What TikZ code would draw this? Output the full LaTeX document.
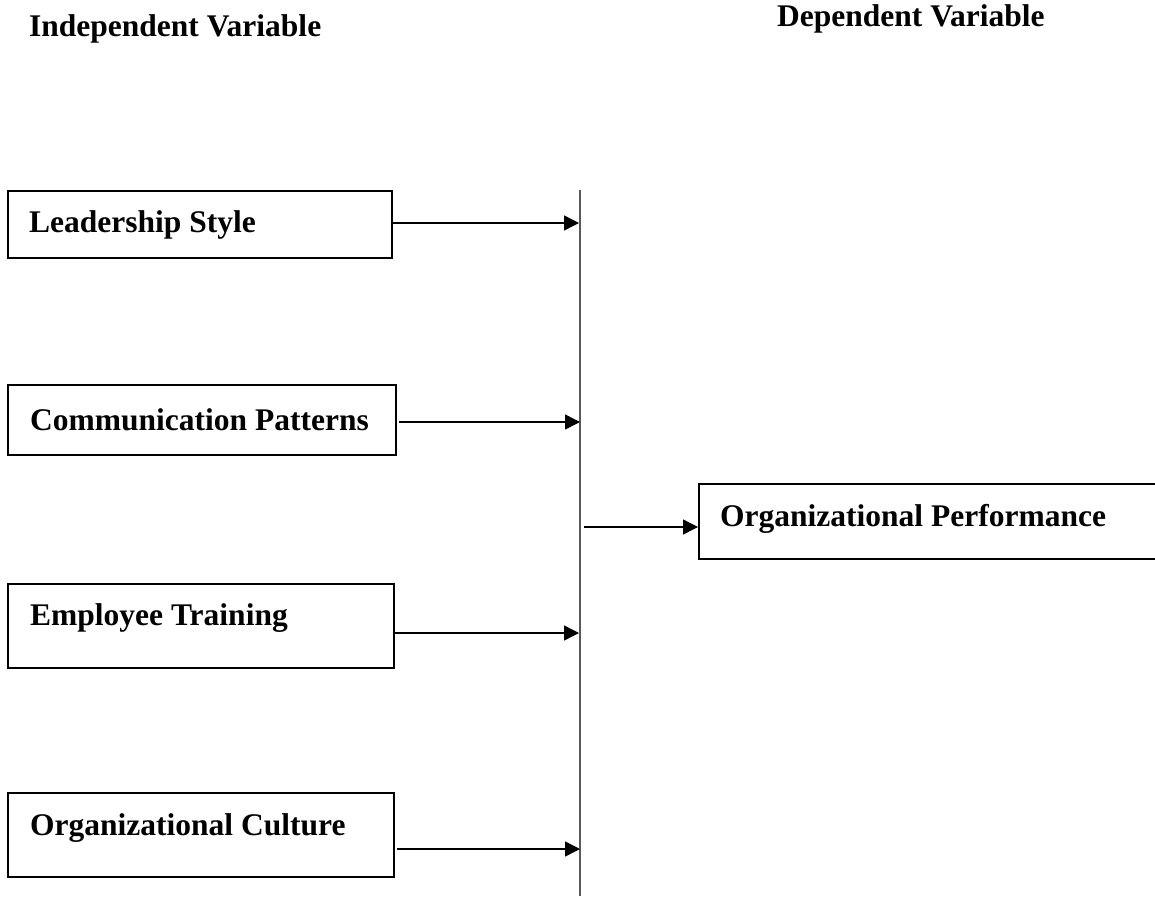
\documentclass[tikz,border=0pt]{standalone}
\usepackage{fontspec}
\setmainfont{Liberation Serif}
\usetikzlibrary{arrows.meta}
\begin{document}
\begin{tikzpicture}[x=1pt,y=-1pt,
  box/.style={draw=black, line width=2pt, fill=none, inner sep=0pt},
  lbl/.style={anchor=base west, inner sep=0pt, font=\fontsize{31.5}{36}\selectfont\bfseries},
  arr/.style={line width=1.4pt, -{Triangle[length=15pt,width=15pt]}},
  vbar/.style={draw=black!65, line width=2pt}]
\useasboundingbox (0,0) rectangle (1155,896);
% headings
\node[lbl] (hind) at (29,37) {Independent Variable};
\node[lbl] (hdep) at (777,27) {Dependent Variable};
% boxes
\node[box, minimum width=384pt, minimum height=67pt] (ls) at (200,224.5) {};
\node[box, minimum width=388pt, minimum height=70pt] (cp) at (202,420) {};
\node[box, minimum width=386pt, minimum height=84pt] (et) at (201,626) {};
\node[box, minimum width=386pt, minimum height=84pt] (oc) at (201,835) {};
\node[box, minimum width=466pt, minimum height=75pt] (op) at (932,521.5) {};
% labels
\node[lbl] (lst) at (29,232) {Leadership Style};
\node[lbl] (cpt) at (30,430) {Communication Patterns};
\node[lbl] (ett) at (30,625) {Employee Training};
\node[lbl] (oct) at (30,835) {Organizational Culture};
\node[lbl] (opt) at (720,526) {Organizational Performance};
% vertical bar
\coordinate (vtop) at (580,190);
\coordinate (vbot) at (580,896);
\draw[vbar] (vtop) -- (vbot);
% arrow ends on the bar
\coordinate (t1) at (579,223);
\coordinate (t2) at (580,422);
\coordinate (t3) at (579,633);
\coordinate (t4) at (580,849);
\coordinate (s5) at (584,527);
\draw[arr] (ls.east |- t1) -- (t1);
\draw[arr] ([xshift=2pt]cp.east |- t2) -- (t2);
\draw[arr] (et.east |- t3) -- (t3);
\draw[arr] ([xshift=2pt]oc.east |- t4) -- (t4);
\draw[arr] (s5) -- (op.west |- s5);
\end{tikzpicture}
\end{document}
